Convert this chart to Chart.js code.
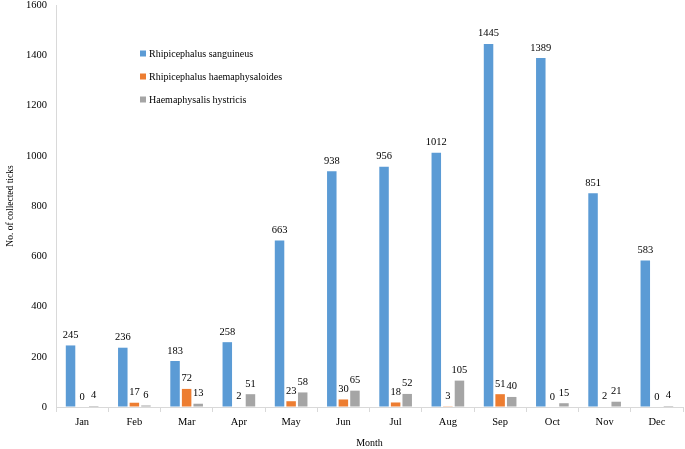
<!DOCTYPE html>
<html>
<head>
<meta charset="utf-8">
<script src="https://cdn.jsdelivr.net/npm/chart.js@4"></script>
<style>
html,body{margin:0;padding:0;background:#fff;}
#wrap{width:685px;height:449px;position:relative;}
</style>
</head>
<body>
<div id="wrap"><canvas id="c" width="685" height="449"></canvas></div>
<script>
const months = ["Jan","Feb","Mar","Apr","May","Jun","Jul","Aug","Sep","Oct","Nov","Dec"];
const seriesNames = ["Rhipicephalus sanguineus","Rhipicephalus haemaphysaloides","Haemaphysalis hystricis"];
const sanguineus = [245,236,183,258,663,938,956,1012,1445,1389,851,583];
const haemaphysaloides = [0,17,72,2,23,30,18,3,51,0,2,0];
const hystricis = [4,6,13,51,58,65,52,105,40,15,21,4];
const colors = ["#5b9bd5","#ed7d31","#a5a5a5"];
const yMin = 0, yMax = 1600, yStep = 200;
const FONT = "'Liberation Serif','Times New Roman',serif";

const valueLabels = {
  id:'valueLabels',
  afterDatasetsDraw(chart){
    const ctx = chart.ctx;
    ctx.save();
    ctx.font = "10.5px " + FONT;
    ctx.fillStyle = "#000";
    ctx.textAlign = "center";
    ctx.textBaseline = "bottom";
    chart.data.datasets.forEach((ds,i)=>{
      const meta = chart.getDatasetMeta(i);
      meta.data.forEach((el,j)=>{
        ctx.fillText(String(ds.data[j]), el.x, el.y - 5);
      });
    });
    ctx.restore();
  }
};

const innerLegend = {
  id:'innerLegend',
  afterDraw(chart){
    const ctx = chart.ctx;
    ctx.save();
    ctx.font = "10px " + FONT;
    ctx.textBaseline = "middle";
    ctx.textAlign = "left";
    const x0 = 140, ys = [54, 77, 100];
    chart.data.datasets.forEach((ds,i)=>{
      ctx.fillStyle = ds.backgroundColor;
      ctx.fillRect(x0, ys[i]-3.5, 6, 6);
      ctx.fillStyle = "#000";
      ctx.fillText(ds.label, x0 + 9, ys[i]);
    });
    ctx.restore();
  }
};

new Chart(document.getElementById('c'), {
  type:'bar',
  data:{
    labels: months,
    datasets:[
      {label: seriesNames[0], data: sanguineus, backgroundColor: colors[0]},
      {label: seriesNames[1], data: haemaphysaloides, backgroundColor: colors[1]},
      {label: seriesNames[2], data: hystricis, backgroundColor: colors[2]}
    ]
  },
  options:{
    responsive:false,
    animation:false,
    datasets:{bar:{categoryPercentage:0.665, barPercentage:0.82}},
    layout:{padding:{top:5,right:2,left:0,bottom:0}},
    plugins:{legend:{display:false}, tooltip:{enabled:false}},
    scales:{
      x:{
        grid:{display:true, drawOnChartArea:false, drawTicks:true, tickLength:5, color:"#d9d9d9", offset:true},
        border:{color:"#d9d9d9"},
        ticks:{font:{family:FONT,size:10.5}, color:"#000", padding:4},
        title:{display:true, text:"Month", font:{family:FONT,size:10}, color:"#000", padding:{top:8,bottom:0}},
        afterFit(s){ s.height = 42; s.paddingLeft = 0; s.paddingRight = 0; }
      },
      y:{
        min:yMin, max:yMax,
        grid:{display:true, drawOnChartArea:false, drawTicks:false, color:"#d9d9d9"},
        border:{color:"#d9d9d9"},
        ticks:{stepSize:yStep, font:{family:FONT,size:10.5}, color:"#000", padding:9,
               callback:(v)=>String(v)},
        title:{display:true, text:"No. of collected ticks", font:{family:FONT,size:9.5}, color:"#000", padding:{top:5,bottom:0}},
        afterFit(s){ s.width = 56; s.paddingTop = 0; s.paddingBottom = 0; }
      }
    }
  },
  plugins:[valueLabels, innerLegend]
});
</script>
</body>
</html>
